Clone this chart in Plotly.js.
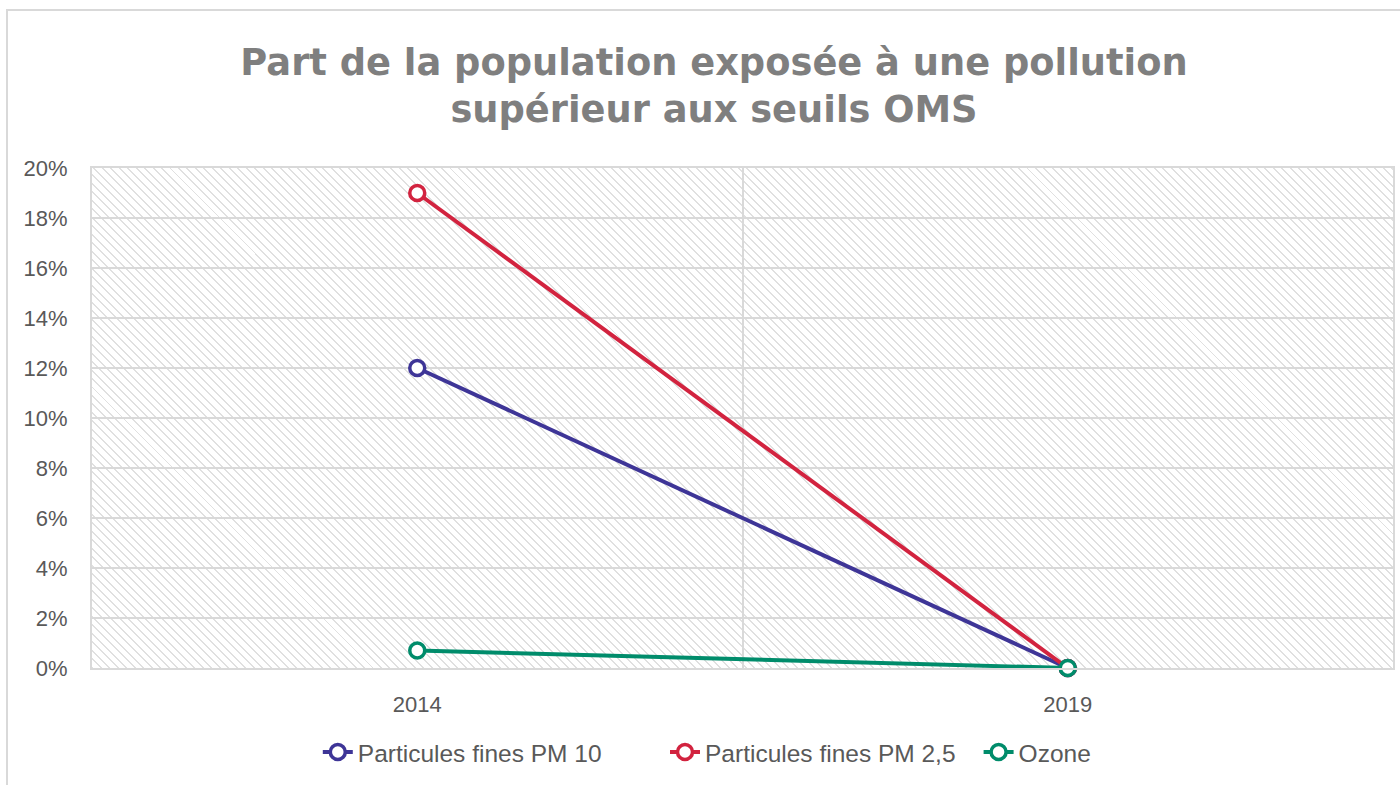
<!DOCTYPE html>
<html>
<head>
<meta charset="utf-8">
<script src="https://cdn.plot.ly/plotly-3.0.1.min.js"></script>
<style>
  html, body { margin: 0; padding: 0; background: #ffffff; width: 1400px; height: 785px; overflow: hidden; }
  #frame { position: absolute; left: 6px; top: 9px; width: 1410px; height: 800px; border: 2px solid #d9d9d9; box-sizing: border-box; }
  #hatch { position: absolute; left: 92px; top: 168px; width: 1301px; height: 500px;
    background: repeating-linear-gradient(45deg, #e0e0e0 0px, #e0e0e0 1.4px, #ffffff 1.4px, #ffffff 6px); }
  #chart { position: absolute; left: 0; top: 0; width: 1400px; height: 785px; }
</style>
</head>
<body>
<div id="frame"></div>
<div id="hatch"></div>
<div id="chart"></div>
<script>
const categories = ["2014", "2019"];
const seriesNames = ["Particules fines PM 10", "Particules fines PM 2,5", "Ozone"];
const pm10 = [0.12, 0.0];
const pm25 = [0.19, 0.0];
const ozone = [0.007, 0.0];
const yTickVals = [0, 0.02, 0.04, 0.06, 0.08, 0.10, 0.12, 0.14, 0.16, 0.18, 0.20];
const yTickText = ["0%", "2%", "4%", "6%", "8%", "10%", "12%", "14%", "16%", "18%", "20%"];
const colors = ["#3e3597", "#d2233f", "#008c6b"];
const legendIds = ["legend", "legend2", "legend3"];
const legendX = [0.227, 0.475, 0.699];

const allSeries = [pm10, pm25, ozone];
const traces = allSeries.map((vals, i) => ({
  type: "scatter",
  mode: "lines+markers",
  name: seriesNames[i],
  x: categories,
  y: vals,
  legend: legendIds[i],
  line: { color: colors[i], width: 4 },
  marker: { symbol: "circle", size: 15, color: "#ffffff", line: { color: colors[i], width: 3.5 } },
  cliponaxis: false
}));

function legendBox(xpos) {
  return {
    orientation: "h",
    x: xpos, xanchor: "left", xref: "container",
    y: 0.042, yanchor: "middle", yref: "container",
    font: { size: 24.5, color: "#595959" },
    bgcolor: "rgba(0,0,0,0)"
  };
}

const layout = {
  width: 1400,
  height: 785,
  paper_bgcolor: "rgba(0,0,0,0)",
  plot_bgcolor: "rgba(0,0,0,0)",
  margin: { l: 92, r: 7, t: 168, b: 117 },
  font: { family: "Liberation Sans, Arial, sans-serif", color: "#595959" },
  title: {
    text: "Part de la population exposée à une pollution<br>supérieur aux seuils OMS",
    font: { family: "DejaVu Sans, sans-serif", size: 36.8, color: "#7f7f7f", weight: "bold" },
    x: 0.51, xanchor: "center", xref: "container",
    y: 0.905, yanchor: "middle", yref: "container"
  },
  xaxis: {
    type: "category",
    range: [-0.5, 1.5],
    tickson: "boundaries",
    ticks: "",
    showgrid: true,
    gridcolor: "#d9d9d9",
    gridwidth: 2,
    showline: true,
    linecolor: "#d9d9d9",
    linewidth: 2,
    mirror: true,
    tickfont: { size: 22, color: "#595959" },
    ticklabelstandoff: 16,
    zeroline: false,
    fixedrange: true
  },
  yaxis: {
    range: [0, 0.20],
    tickvals: yTickVals,
    ticktext: yTickText,
    showgrid: true,
    gridcolor: "#d9d9d9",
    gridwidth: 2,
    showline: true,
    linecolor: "#d9d9d9",
    linewidth: 2,
    mirror: true,
    zeroline: false,
    ticks: "",
    tickfont: { size: 22, color: "#595959" },
    ticklabelstandoff: 18,
    fixedrange: true
  },
  showlegend: true,
  legend: legendBox(legendX[0]),
  legend2: legendBox(legendX[1]),
  legend3: legendBox(legendX[2])
};

Plotly.newPlot("chart", traces, layout, { displayModeBar: false, staticPlot: true });
</script>
</body>
</html>
